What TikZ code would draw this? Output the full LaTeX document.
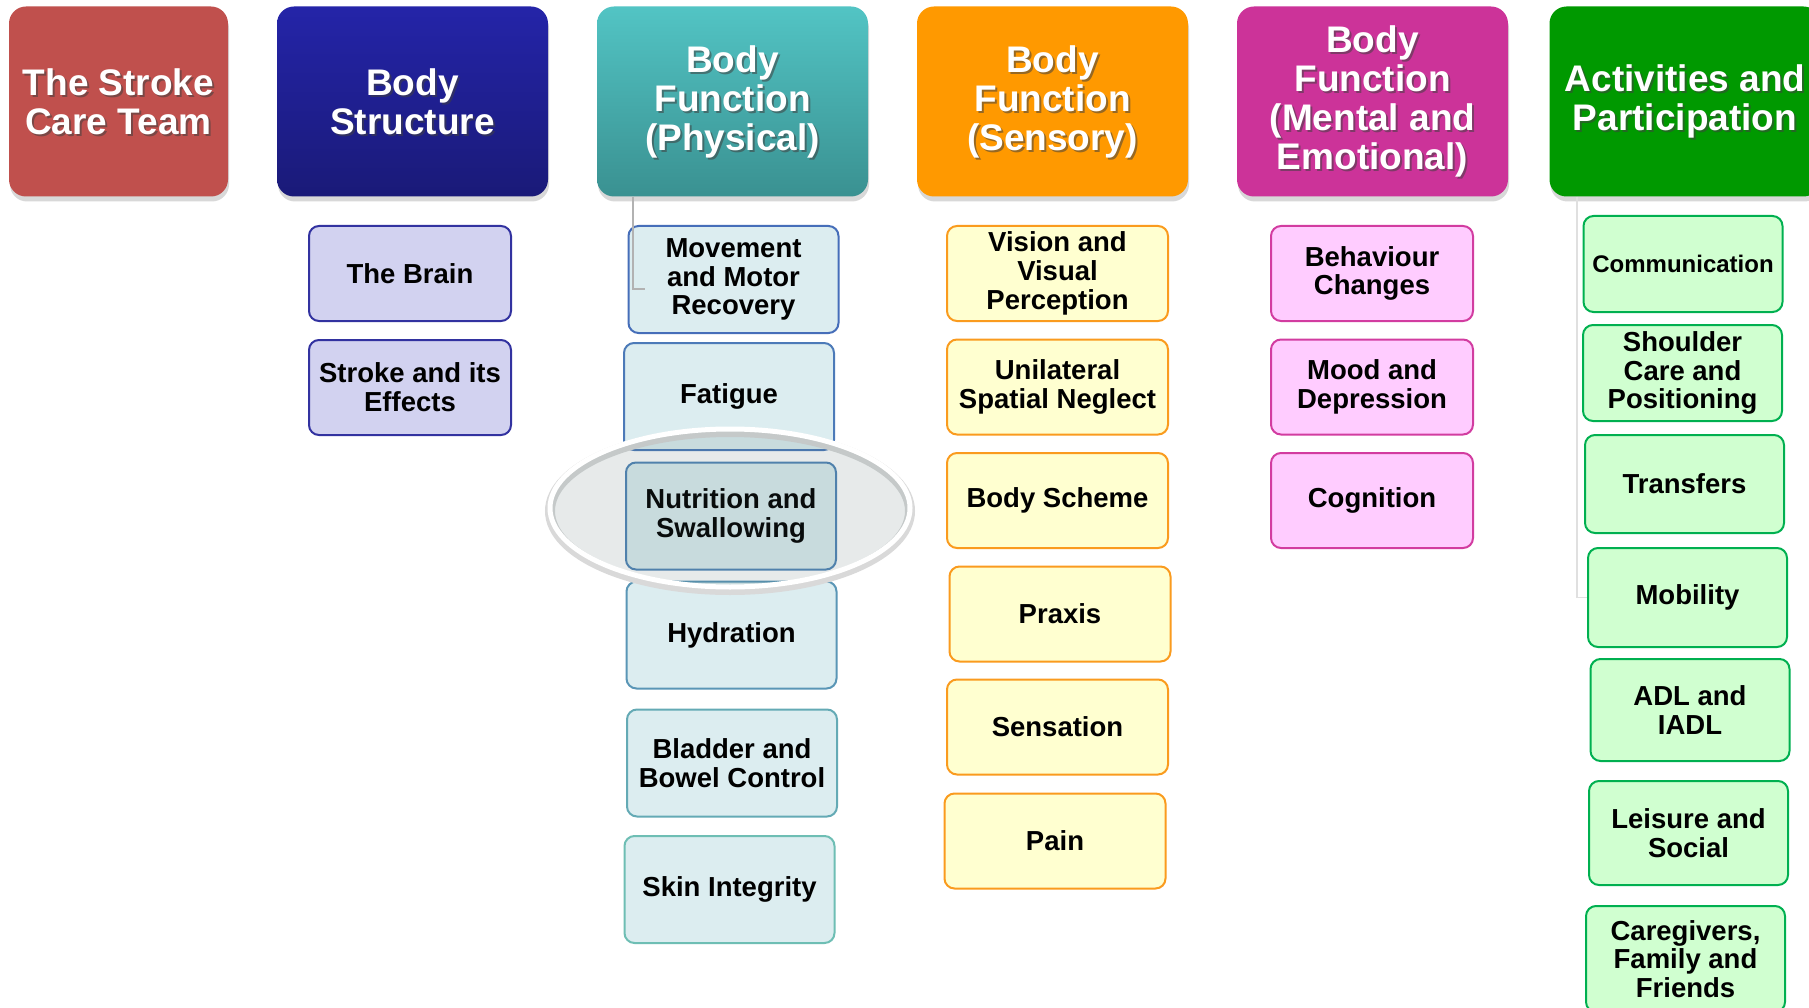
\documentclass[tikz,border=0pt]{standalone}
\usepackage{fontspec}
\setmainfont{Liberation Sans}
\usepackage{tikz}
\usetikzlibrary{shapes.geometric,shadows}

\definecolor{teamred}{RGB}{192,80,77}
\definecolor{structtop}{RGB}{36,36,168}
\definecolor{structbot}{RGB}{26,26,120}
\definecolor{phystop}{RGB}{82,196,196}
\definecolor{physbot}{RGB}{58,145,145}
\definecolor{sensorange}{RGB}{255,153,0}
\definecolor{mentpink}{RGB}{204,51,153}
\definecolor{actgreen}{RGB}{0,153,0}
\definecolor{bsfill}{RGB}{210,210,240}
\definecolor{bsline}{RGB}{50,50,160}
\definecolor{physfill}{RGB}{220,237,240}
\definecolor{pblue}{RGB}{70,110,185}
\definecolor{pteal}{RGB}{110,190,180}
\definecolor{sensfill}{RGB}{255,255,208}
\definecolor{sensline}{RGB}{250,155,30}
\definecolor{mentfill}{RGB}{255,204,255}
\definecolor{mentline}{RGB}{210,60,160}
\definecolor{actfill}{RGB}{208,255,208}
\definecolor{actline}{RGB}{0,176,80}
\definecolor{spotgray}{RGB}{70,100,100}

\newcommand{\headfont}{\fontsize{37}{39}\selectfont\bfseries}
\newcommand{\kidfont}{\fontsize{27.5}{28.8}\selectfont\bfseries}

\tikzset{
  head/.style={rounded corners=17pt, minimum width=271pt, minimum height=190pt, inner sep=0pt,
    drop shadow={shadow xshift=1pt, shadow yshift=-5pt, opacity=0.3}},
  htext/.style={text=white, font=\headfont, align=center},
  hshadow/.style={text=black!75, font=\headfont, align=center, opacity=0.55},
  kid/.style={rounded corners=10pt, line width=2pt, inner sep=0pt, align=center, font=\kidfont},
  bsbox/.style={kid, fill=bsfill, draw=bsline, minimum width=202pt, minimum height=95pt},
  physbox/.style={kid, fill=physfill, minimum width=210pt, minimum height=107pt},
  sensbox/.style={kid, fill=sensfill, draw=sensline, minimum width=221pt, minimum height=95pt},
  mentbox/.style={kid, fill=mentfill, draw=mentline, minimum width=202pt, minimum height=95pt},
  actbox/.style={kid, fill=actfill, draw=actline, minimum width=199pt, minimum height=98pt},
  conn/.style={draw=black!30, line width=1.5pt},
  spot/.style={ellipse, draw=white, line width=5pt, fill=spotgray, fill opacity=0.13,
    minimum width=360pt, minimum height=158pt, inner sep=0pt},
  halo/.style={ellipse, draw=black!15, line width=10pt,
    minimum width=360pt, minimum height=158pt, inner sep=0pt},
}

\begin{document}
\begin{tikzpicture}[x=1pt,y=-1pt]
\useasboundingbox (0,0) rectangle (1809,1008);
\clip (0,0) rectangle (1809,1008);
\fill[white] (0,0) rectangle (1809,1008);

% column heads
\node[head, fill=teamred, minimum width=219pt] (team) at (118.5,101.5) {};
\node[head, top color=structtop, bottom color=structbot] (struct) at (412.5,101.5) {};
\node[head, top color=phystop, bottom color=physbot] (phys) at (732.5,101.5) {};
\node[head, fill=sensorange] (sens) at (1052.5,101.5) {};
\node[head, fill=mentpink] (ment) at (1372.5,101.5) {};
\node[head, fill=actgreen] (act) at (1685,101.5) {};

\foreach \nm/\txt in {team/{The Stroke\\Care Team}, struct/{Body\\Structure},
    phys/{Body\\Function\\(Physical)}, sens/{Body\\Function\\(Sensory)},
    ment/{Body\\Function\\(Mental and\\Emotional)}, act/{Activities and\\Participation}}{
  \node[hshadow] at ([xshift=2pt,yshift=-2pt]\nm.center) {\txt};
  \node[htext] at (\nm.center) {\txt};
}

% body structure
\node[bsbox] (brain) at (410,273.5) {The Brain};
\node[bsbox] (effects) at (410,387.5) {Stroke and its\\Effects};

% body function, physical
\node[physbox, draw=pblue] (motor) at (733.5,279.5) {Movement\\and Motor\\Recovery};
\node[physbox, draw=pblue!85!pteal] (fatigue) at (729,396.5) {Fatigue};
\node[physbox, draw=pblue!70!pteal] (swallow) at (731,516) {Nutrition and\\Swallowing};
\node[physbox, draw=pblue!50!pteal] (hydration) at (731.5,635) {Hydration};
\node[physbox, draw=pblue!25!pteal] (bladder) at (732,763) {Bladder and\\Bowel Control};
\node[physbox, draw=pteal] (skin) at (729.5,889.5) {Skin Integrity};

% body function, sensory
\node[sensbox] (vision) at (1057.5,273.5) {Vision and\\Visual\\Perception};
\node[sensbox] (neglect) at (1057.5,387) {Unilateral\\Spatial Neglect};
\node[sensbox] (scheme) at (1057.5,500.5) {Body Scheme};
\node[sensbox] (praxis) at (1060,614) {Praxis};
\node[sensbox] (sensation) at (1057.5,727) {Sensation};
\node[sensbox] (pain) at (1055,841) {Pain};

% body function, mental and emotional
\node[mentbox] (behaviour) at (1372,273.5) {Behaviour\\Changes};
\node[mentbox] (mood) at (1372,387) {Mood and\\Depression};
\node[mentbox] (cognition) at (1372,500.5) {Cognition};

% activities and participation
\node[actbox, minimum height=96pt, font=\fontsize{24}{26}\selectfont\bfseries] (comm) at (1683,264) {Communication};
\node[actbox, minimum height=96pt] (shoulder) at (1682.5,373) {Shoulder\\Care and\\Positioning};
\node[actbox] (transfers) at (1684.5,484) {Transfers};
\node[actbox, minimum height=99pt] (mobility) at (1687.5,597.5) {Mobility};
\node[actbox, minimum height=102pt] (adl) at (1690,710) {ADL and\\IADL};
\node[actbox, minimum height=104pt] (leisure) at (1688.5,833) {Leisure and\\Social};
\node[actbox, minimum height=106pt] (carers) at (1685.5,959) {Caregivers,\\Family and\\Friends};

% the few connectors that show
\coordinate (physdrop) at (633,289);
\coordinate (physend) at (645,289);
\draw[conn] (physdrop |- phys.south) -- (physdrop) -- (physend);
\coordinate (actdrop) at (1577,0);
\draw[conn, draw=black!12] (actdrop |- act.south) |- (mobility.west);

% highlight
\node[halo] (focushalo) at (730,511) {};
\node[spot] (focus) at (730,508) {};
\end{tikzpicture}
\end{document}
